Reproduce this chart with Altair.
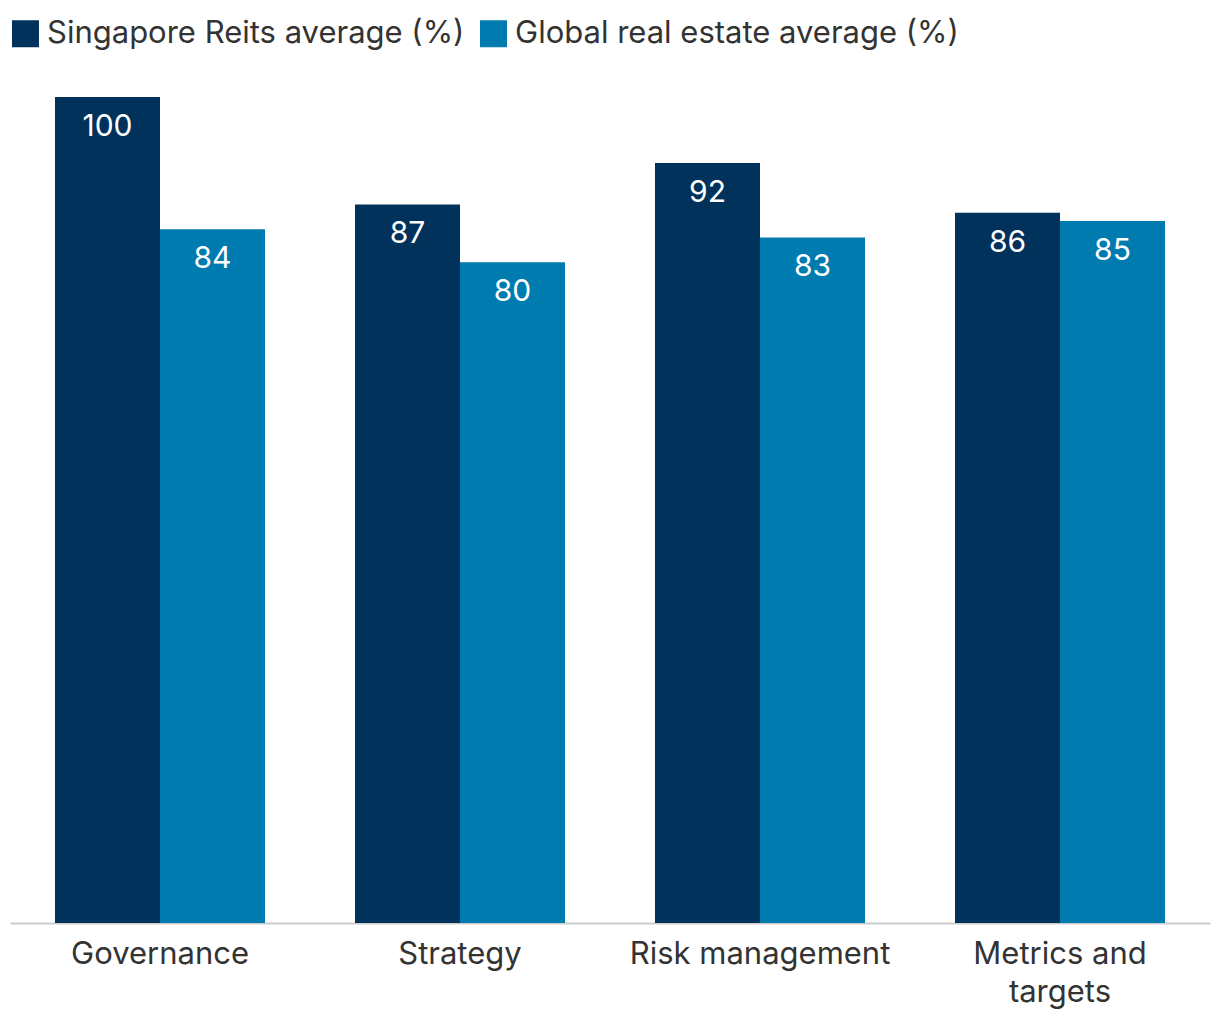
import altair as alt
import pandas as pd

categories = ["Governance", "Strategy", "Risk management", "Metrics and targets"]
series = ["Singapore Reits average (%)", "Global real estate average (%)"]
sg_values = [100, 87, 92, 86]
global_values = [84, 80, 83, 85]
colors = ["#00325C", "#007BAF"]

rows = []
for c, a, b in zip(categories, sg_values, global_values):
    rows.append({"category": c, "series": series[0], "value": a})
    rows.append({"category": c, "series": series[1], "value": b})
df = pd.DataFrame(rows)

FONT = "Inter"

x = alt.X("category:N", sort=categories, title=None,
          scale=alt.Scale(paddingInner=0.3, paddingOuter=0.15),
          axis=alt.Axis(labelAngle=0, labelFontSize=31, labelColor="#333333", labelFont=FONT,
                        domainColor="#cccccc", domainWidth=2, ticks=False, labelPadding=16,
                        labelLineHeight=38, labelLimit=500,
                        labelExpr="datum.label == 'Metrics and targets' ? ['Metrics and', 'targets'] : datum.label"))
xo = alt.XOffset("series:N", sort=series, scale=alt.Scale(paddingInner=0, paddingOuter=0))
y = alt.Y("value:Q", scale=alt.Scale(domain=[0, 100], nice=False), axis=None)

bars = alt.Chart(df).mark_bar().encode(
    x=x, xOffset=xo, y=y,
    color=alt.Color("series:N", sort=series, scale=alt.Scale(domain=series, range=colors),
                    legend=alt.Legend(title=None, orient="none", legendX=0, legendY=-79,
                                      direction="horizontal", symbolType="square", symbolSize=729,
                                      symbolStrokeWidth=0, symbolOpacity=1,
                                      labelFontSize=31, labelColor="#333333", labelFont=FONT,
                                      labelOffset=6, columnPadding=13, labelLimit=600)),
)

labels = alt.Chart(df).mark_text(color="white", fontSize=30, font=FONT, baseline="top", dy=15).encode(
    x=x, xOffset=xo, y=y, text=alt.Text("value:Q"),
)

chart = alt.layer(bars, labels).properties(
    width=1200, height=826,
    autosize=alt.AutoSizeParams(type="none"),
    padding={"left": 2, "top": 89, "right": 2, "bottom": 88},
).configure_view(stroke=None)

chart.save("out.html", embed_options={"renderer": "svg", "actions": False})
